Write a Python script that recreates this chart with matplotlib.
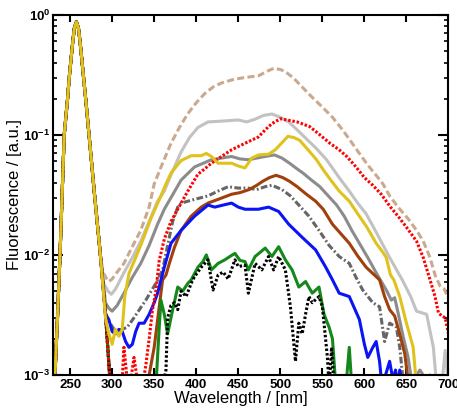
import matplotlib
matplotlib.use("Agg")
import matplotlib.pyplot as plt
from matplotlib.ticker import FixedLocator, FixedFormatter, LogLocator, NullFormatter

plt.rcParams['font.family'] = ['Liberation Sans', 'DejaVu Sans']
plt.rcParams['mathtext.fontset'] = 'custom'
plt.rcParams['mathtext.rm'] = 'Liberation Sans'
plt.rcParams['mathtext.bf'] = 'Liberation Sans:bold'

# shared excitation peak
peak_wl = [230, 232, 235, 238, 243, 247, 249, 251, 253, 255, 257.5, 260, 262, 264, 266, 268.5, 272.5, 279, 286, 292, 297]
peak_val = [0.0006, 0.001, 0.003, 0.01, 0.1, 0.2, 0.3, 0.42, 0.58, 0.77, 0.87, 0.77, 0.58, 0.42, 0.30, 0.2, 0.1, 0.032, 0.01, 0.0033, 0.001]

tan_wl = [289, 293, 296, 300, 306, 314, 322, 334, 344, 350, 360, 370, 380, 390, 400, 410, 420, 430, 445, 458, 474, 485, 492, 500, 506, 515, 526, 538, 550, 562, 574, 584, 594, 604, 614, 622, 630, 640, 652, 662, 670, 678, 684, 690, 695, 700]
tan_val = [0.0072, 0.0064, 0.006, 0.0063, 0.0072, 0.0085, 0.011, 0.016, 0.025, 0.039, 0.058, 0.085, 0.115, 0.15, 0.185, 0.22, 0.25, 0.27, 0.29, 0.30, 0.31, 0.34, 0.357, 0.35, 0.335, 0.30, 0.25, 0.205, 0.17, 0.14, 0.11, 0.088, 0.07, 0.056, 0.046, 0.039, 0.031, 0.025, 0.02, 0.016, 0.013, 0.0095, 0.0068, 0.0055, 0.0052, 0.0043]

lgray_wl = [290, 295, 299, 304, 314, 324, 334, 344, 354, 362, 372, 382, 392, 402, 414, 430, 450, 460, 470, 480, 490, 500, 510, 520, 530, 542, 555, 570, 582, 592, 602, 615, 630, 645, 655, 662, 674, 682, 686, 692, 696, 700]
lgray_val = [0.0058, 0.005, 0.0047, 0.0052, 0.0071, 0.0095, 0.013, 0.019, 0.028, 0.034, 0.05, 0.072, 0.095, 0.115, 0.128, 0.13, 0.133, 0.128, 0.135, 0.145, 0.149, 0.14, 0.128, 0.11, 0.094, 0.078, 0.062, 0.044, 0.034, 0.027, 0.022, 0.015, 0.0095, 0.0062, 0.0045, 0.0034, 0.0032, 0.0017, 0.0008, 0.0008, 0.0016, 0.0008]

mgray_wl = [292, 296, 300, 306, 314, 324, 334, 344, 354, 362, 370, 382, 398, 418, 430, 442, 452, 462, 472, 482, 493, 502, 511, 520, 527, 537, 547, 557, 567, 576, 585, 594, 604, 614, 626, 632, 636, 640, 646, 652, 656, 660, 666, 672, 678, 684]
mgray_val = [0.004, 0.0036, 0.0034, 0.0038, 0.0048, 0.0065, 0.0085, 0.012, 0.018, 0.024, 0.030, 0.042, 0.054, 0.062, 0.064, 0.066, 0.063, 0.062, 0.064, 0.066, 0.068, 0.064, 0.058, 0.052, 0.048, 0.042, 0.037, 0.031, 0.026, 0.021, 0.016, 0.0125, 0.0095, 0.0071, 0.0051, 0.0042, 0.0044, 0.0033, 0.0021, 0.0014, 0.0009, 0.00095, 0.0011, 0.00095, 0.001, 0.0008]

dd_wl = [296, 304, 312, 318, 326, 340, 352, 360, 366, 372, 378, 382, 398, 414, 426, 438, 450, 462, 472, 482, 490, 502, 512, 522, 534, 546, 558, 570, 582, 590, 598, 610, 618, 624, 630, 638, 642, 646]
dd_val = [0.0028, 0.0023, 0.0024, 0.0025, 0.003, 0.0042, 0.0058, 0.0075, 0.012, 0.019, 0.025, 0.027, 0.029, 0.031, 0.034, 0.037, 0.036, 0.036, 0.035, 0.037, 0.038, 0.035, 0.031, 0.026, 0.021, 0.016, 0.012, 0.0097, 0.0085, 0.0065, 0.0051, 0.004, 0.0037, 0.0019, 0.0027, 0.0025, 0.0017, 0.0009]

brown_wl = [300, 340, 344, 350, 356, 360, 364, 368, 374, 382, 394, 406, 414, 426, 442, 452, 463, 472, 479, 487, 495, 503, 511, 520, 531, 542, 551, 562, 572, 582, 592, 602, 610, 618, 624, 630, 636, 642, 648, 652]
brown_val = [0.0005, 0.0005, 0.001, 0.0017, 0.0037, 0.0062, 0.0068, 0.0085, 0.0115, 0.016, 0.021, 0.025, 0.027, 0.029, 0.032, 0.033, 0.035, 0.038, 0.041, 0.044, 0.046, 0.044, 0.041, 0.037, 0.032, 0.028, 0.024, 0.018, 0.015, 0.0125, 0.0098, 0.0079, 0.007, 0.0062, 0.0045, 0.0035, 0.0031, 0.0022, 0.0015, 0.0009]

blue_wl = [292, 296, 300, 304, 308, 312, 316, 320, 324, 328, 332, 338, 344, 350, 354, 362, 370, 382, 398, 414, 422, 432, 442, 450, 458, 474, 486, 498, 510, 526, 542, 554, 562, 570, 582, 594, 600, 604, 610, 614, 618, 621, 630, 634, 637, 640, 642, 645]
blue_val = [0.0032, 0.0029, 0.0023, 0.0022, 0.0024, 0.0023, 0.0019, 0.0017, 0.0018, 0.0023, 0.0027, 0.0027, 0.0032, 0.004, 0.0048, 0.0079, 0.0125, 0.016, 0.021, 0.026, 0.025, 0.026, 0.027, 0.025, 0.024, 0.024, 0.025, 0.023, 0.018, 0.014, 0.011, 0.0079, 0.0062, 0.0048, 0.0045, 0.0029, 0.0018, 0.0014, 0.0017, 0.0019, 0.0013, 0.0008, 0.0013, 0.0009, 0.0011, 0.0008, 0.0011, 0.0008]

green_wl = [300, 352, 356, 358, 362, 366, 372, 378, 384, 390, 394, 402, 408, 412, 418, 426, 434, 440, 446, 452, 458, 462, 470, 476, 482, 490, 498, 506, 514, 522, 530, 538, 546, 552, 558, 562, 566, 578, 582, 585]
green_val = [0.0005, 0.0008, 0.0025, 0.0042, 0.0032, 0.0022, 0.0035, 0.0054, 0.005, 0.0058, 0.0062, 0.0079, 0.0088, 0.010, 0.0075, 0.0085, 0.0091, 0.0097, 0.0103, 0.009, 0.0088, 0.0075, 0.0097, 0.0105, 0.0114, 0.0097, 0.0117, 0.0091, 0.0075, 0.0054, 0.006, 0.0048, 0.0054, 0.0032, 0.0025, 0.002, 0.0008, 0.0008, 0.0017, 0.0008]

black_wl = [300, 360, 364, 366, 370, 374, 378, 382, 388, 394, 398, 406, 414, 420, 426, 432, 438, 446, 450, 458, 462, 470, 478, 486, 492, 498, 506, 512, 518, 522, 526, 530, 534, 538, 546, 550, 556, 558, 561, 564]
black_val = [0.0005, 0.0008, 0.0011, 0.003, 0.0038, 0.004, 0.0035, 0.005, 0.0045, 0.0058, 0.0066, 0.0079, 0.0091, 0.0051, 0.0068, 0.0072, 0.0063, 0.0091, 0.008, 0.0082, 0.0048, 0.0085, 0.0075, 0.0097, 0.0075, 0.0097, 0.0075, 0.0037, 0.0013, 0.0027, 0.0022, 0.0032, 0.0045, 0.004, 0.0045, 0.0037, 0.0014, 0.0008, 0.0017, 0.0008]

red_wl = [302, 308, 312, 314, 318, 322, 326, 330, 336, 340, 344, 348, 352, 356, 362, 370, 378, 390, 402, 410, 418, 430, 442, 458, 474, 482, 490, 500, 510, 520, 535, 547, 559, 570, 579, 590, 600, 610, 620, 631, 640, 650, 662, 670, 678, 684, 688, 692, 696, 700, 702]
red_val = [0.0006, 0.0007, 0.0009, 0.0017, 0.0009, 0.0009, 0.0014, 0.0009, 0.0008, 0.0012, 0.002, 0.0035, 0.005, 0.009, 0.0135, 0.019, 0.024, 0.034, 0.047, 0.052, 0.058, 0.066, 0.075, 0.085, 0.096, 0.11, 0.124, 0.136, 0.132, 0.128, 0.117, 0.10, 0.085, 0.075, 0.066, 0.054, 0.044, 0.038, 0.032, 0.025, 0.021, 0.017, 0.013, 0.0095, 0.0062, 0.0045, 0.0033, 0.0031, 0.003, 0.0022, 0.0016]

yellow_wl = [292, 296, 300, 304, 308, 312, 315, 320, 326, 334, 346, 358, 364, 370, 382, 394, 406, 412, 418, 426, 442, 450, 458, 466, 474, 486, 494, 502, 509, 516, 523, 533, 543, 552, 560, 570, 582, 592, 603, 614, 622, 626, 631, 635, 642, 650, 658, 662]
yellow_val = [0.003, 0.0022, 0.0018, 0.0024, 0.0021, 0.0024, 0.0045, 0.007, 0.0088, 0.012, 0.02, 0.031, 0.039, 0.048, 0.061, 0.067, 0.067, 0.070, 0.066, 0.058, 0.058, 0.055, 0.053, 0.064, 0.068, 0.069, 0.075, 0.086, 0.097, 0.095, 0.09, 0.075, 0.062, 0.05, 0.042, 0.034, 0.028, 0.022, 0.017, 0.0125, 0.0105, 0.0095, 0.0068, 0.0062, 0.0045, 0.0027, 0.0017, 0.0008]

x_ticks = [250, 300, 350, 400, 450, 500, 550, 600, 650, 700]
y_ticks = [1e-3, 1e-2, 1e-1, 1e0]
y_tick_labels = [r'$\mathbf{10^{-3}}$', r'$\mathbf{10^{-2}}$', r'$\mathbf{10^{-1}}$', r'$\mathbf{10^{0}}$']


def full(wl, val):
    w = [p for p in peak_wl if p < wl[0]]
    v = [peak_val[i] for i, p in enumerate(peak_wl) if p < wl[0]]
    return w + list(wl), v + list(val)


fig = plt.figure(figsize=(4.57, 4.11), dpi=100)
ax = fig.add_axes([0.1166, 0.0876, 0.8648, 0.8766])

series = [
    (tan_wl, tan_val, '#CBA98F', (0, (2.3, 1.1))),
    (lgray_wl, lgray_val, '#C2C2C2', '-'),
    (mgray_wl, mgray_val, '#8C8C8C', '-'),
    (dd_wl, dd_val, '#666666', (0, (2.2, 0.8, 0.6, 0.8))),
    (brown_wl, brown_val, '#A0400C', '-'),
    (blue_wl, blue_val, '#0A14F5', '-'),
    (green_wl, green_val, '#14881A', '-'),
    (black_wl, black_val, '#000000', (0, (0.8, 0.7))),
    (red_wl, red_val, '#FF0000', (0, (0.8, 0.6))),
    (yellow_wl, yellow_val, '#E0C21C', '-'),
]
for wl, val, col, ls in series:
    w, v = full(wl, val)
    ax.plot(w, v, color=col, linestyle=ls, linewidth=2.2)

ax.set_yscale('log')
ax.set_xlim(230, 700)
ax.set_ylim(1e-3, 1)

ax.xaxis.set_major_locator(FixedLocator(x_ticks))
ax.set_xticklabels([str(t) for t in x_ticks], fontweight='bold', fontsize=9.5)
ax.yaxis.set_major_locator(FixedLocator(y_ticks))
ax.yaxis.set_major_formatter(FixedFormatter(y_tick_labels))
ax.yaxis.set_minor_locator(LogLocator(base=10, subs=[2, 3, 4, 5, 6, 7, 8, 9]))
ax.yaxis.set_minor_formatter(NullFormatter())
for lbl in ax.get_yticklabels():
    lbl.set_fontsize(9.5)

ax.tick_params(axis='both', which='major', direction='in', top=True, right=True,
               length=5, width=1.5, pad=3, colors='black')
ax.tick_params(axis='y', which='minor', direction='in', right=True, length=3, width=1.2)
ax.tick_params(axis='y', which='major', length=7, pad=2)
for s in ax.spines.values():
    s.set_linewidth(1.5)

ax.set_xlabel('Wavelength / [nm]', fontsize=12)
ax.xaxis.set_label_coords(0.474, -0.045)
ax.set_ylabel('Fluorescence / [a.u.]', fontsize=12)
ax.yaxis.set_label_coords(-0.08, 0.5)

fig.savefig('out.png', dpi=100)
